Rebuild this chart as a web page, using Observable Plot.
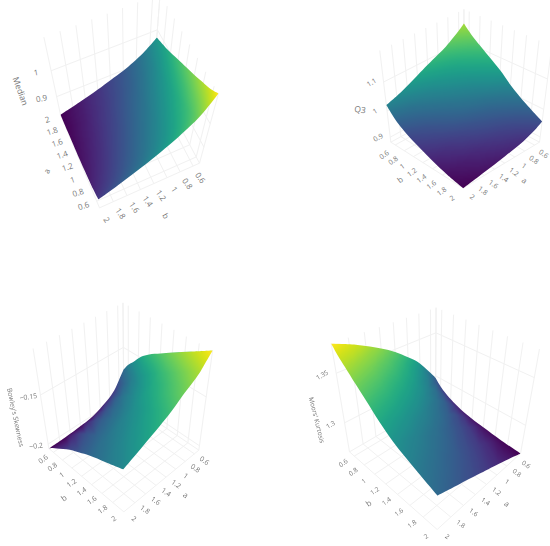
<!DOCTYPE html>
<html><head><meta charset="utf-8">
<style>
html,body{margin:0;padding:0;background:#fff}
#grid{display:grid;grid-template-columns:275px 275px;grid-template-rows:273px 273px;width:550px;height:546px;filter:blur(.4px)}
svg{display:block}
</style>
<script src="https://cdn.jsdelivr.net/npm/d3@7"></script>
<script src="https://cdn.jsdelivr.net/npm/@observablehq/plot@0.6"></script>
</head><body><div id="grid"></div>
<script>
// parameter grid shared by the four surfaces (rows: a, columns: b)
const gridA = [0.5,0.6,0.7,0.85,1,1.2,1.4,1.7,2];
const gridB = [0.5,0.6,0.7,0.85,1,1.2,1.4,1.7,2];
const abTicks = [0.6,0.8,1,1.2,1.4,1.6,1.8,2];

const medianRange = [0.82,1.11];
const medianTicks = [0.9,1];
const medianLevels = [
 [1,.88,.78,.68,.59,.49,.40,.28,.17],
 [.95,.832,.733,.634,.545,.446,.357,.239,.13],
 [.91,.794,.698,.60,.513,.416,.328,.212,.105],
 [.86,.748,.655,.56,.475,.382,.297,.183,.08],
 [.81,.703,.614,.522,.44,.351,.269,.159,.06],
 [.75,.65,.566,.478,.40,.316,.238,.134,.04],
 [.69,.598,.52,.436,.363,.285,.211,.113,.025],
 [.60,.52,.452,.376,.31,.242,.176,.088,.01],
 [.53,.46,.40,.33,.27,.21,.15,.07,0]];

const q3Range = [0.88,1.2];
const q3Ticks = [0.9,1,1.1];
const q3Levels = [
 [.865,.81,.76,.70,.64,.56,.46,.34,.24],
 [.819,.764,.714,.654,.594,.515,.416,.298,.20],
 [.78,.724,.673,.613,.554,.476,.38,.265,.17],
 [.725,.667,.615,.555,.497,.423,.332,.224,.135],
 [.685,.626,.573,.513,.456,.384,.298,.194,.11],
 [.634,.573,.519,.459,.403,.335,.256,.16,.085],
 [.58,.516,.46,.40,.346,.283,.212,.126,.06],
 [.50,.432,.374,.314,.262,.207,.149,.08,.03],
 [.44,.37,.31,.25,.20,.15,.10,.04,0]];

const bowleyRange = [-0.205,-0.11];
const bowleyTicks = [-0.2,-0.15];
const bowleyLabels = ["\u22120.2","\u22120.15"];
const bowleyLevels = [
 [.345,.43,.49,.59,.66,.73,.80,.90,1],
 [.26,.338,.399,.495,.573,.654,.736,.838,.94],
 [.18,.26,.324,.42,.502,.586,.67,.775,.88],
 [.115,.196,.26,.358,.439,.524,.609,.714,.82],
 [.075,.155,.217,.315,.395,.478,.562,.666,.77],
 [.035,.11,.169,.261,.336,.415,.494,.592,.69],
 [.02,.09,.145,.23,.30,.374,.447,.539,.63],
 [.005,.068,.117,.193,.256,.321,.387,.468,.55],
 [0,.05,.09,.15,.21,.27,.33,.40,.47]];

const moorsRange = [1.266,1.376];
const moorsTicks = [1.3,1.35];
const moorsLevels = [
 [.285,.22,.175,.125,.09,.06,.04,.015,0],
 [.37,.299,.25,.192,.15,.109,.08,.046,.023],
 [.45,.378,.327,.264,.216,.164,.125,.082,.05],
 [.56,.486,.433,.363,.305,.237,.185,.13,.085],
 [.64,.569,.516,.443,.38,.301,.239,.174,.12],
 [.74,.669,.614,.536,.466,.376,.303,.229,.165],
 [.82,.749,.695,.614,.54,.441,.362,.281,.21],
 [.92,.849,.794,.71,.632,.526,.439,.352,.275],
 [1,.93,.875,.79,.71,.60,.51,.42,.34]];

const axisDomain = [0.5,2];
const W = 275, H = 273, K = 3; // cameras below are in 3x picture units

const panels = [
 {name:"Median", levels:medianLevels, range:medianRange, ticks:medianTicks, labels:["0.9","1"], tickSize:8,
  cam:{a5b5:[597,488], a2b5:[460,230], a5b2:[297,622], a2b2:[180,343], nadir:[381,1282], top:[130,110], topAt:[1,1]},
  wallA:2,
  aAxis:{b:2,dx:-13,dy:5,rotate:-18}, bAxis:{a:.5,dx:7,dy:12,rotate:55}, zAxis:{a:2,b:2,dx:-15,dy:2,rotate:-10},
  aTitle:{dx:-32,dy:12,rotate:-70}, bTitle:{dx:15,dy:31,rotate:60},
  zTitle:{z:.965,dx:-33,dy:11,rotate:70,size:8.5}},
 {name:"Q3", levels:q3Levels, range:q3Range, ticks:q3Ticks, labels:["0.9","1","1.1"], tickSize:7,
  cam:{a5b5:[565,305], a2b5:[346,425], a5b2:[792,425], a2b2:[563,563], nadir:[563,2220], top:[310,150], topAt:[1,0]},
  wallA:.5,
  aAxis:{b:2,dx:9,dy:9,rotate:35}, bAxis:{a:2,dx:-11,dy:10,rotate:-35}, zAxis:{a:2,b:.5,dx:-12,dy:.5,rotate:-30},
  aTitle:{dx:22,dy:16,rotate:35}, bTitle:{dx:-25,dy:16,rotate:-35},
  zTitle:{z:1,dx:-27,dy:-1,rotate:8,size:8.5}},
 {name:"Bowley's Skewness", levels:bowleyLevels, range:bowleyRange, ticks:bowleyTicks, labels:bowleyLabels, tickSize:7,
  cam:{a5b5:[370,378], a2b5:[145,525], a5b2:[595,530], a2b2:[370,715], nadir:[385,2050], top:[95,225], topAt:[1,0]},
  wallA:.5,
  aAxis:{b:2,dx:10,dy:7,rotate:35}, bAxis:{a:2,dx:-10,dy:7,rotate:-35}, zAxis:{a:2,b:.5,dx:-12,dy:2,rotate:-8},
  aTitle:{dx:22,dy:16,rotate:35}, bTitle:{dx:-20,dy:20,rotate:-35},
  zTitle:{z:-.155,dx:-26,dy:17,rotate:78,size:6.8}},
 {name:"Moors' Kurtosis", levels:moorsLevels, range:moorsRange, ticks:moorsTicks, labels:["1.3","1.35"], tickSize:6.5,
  cam:{a5b5:[480,385], a2b5:[222,535], a5b2:[735,540], a2b2:[485,768], nadir:[470,2000], top:[168,210], topAt:[1,0]},
  wallA:.5,
  aAxis:{b:2,dx:10,dy:7,rotate:35}, bAxis:{a:2,dx:-11,dy:7,rotate:-35}, zAxis:{a:2,b:.5,dx:-14,dy:2,rotate:-30},
  aTitle:{dx:23,dy:17,rotate:35}, bTitle:{dx:-20,dy:17,rotate:-35},
  zTitle:{z:1.325,dx:-24,dy:21,rotate:76,size:6.5}}
];

// Projective camera from the floor quadrilateral, the vanishing point of the verticals and one box-top corner
function makeCamera(c){
  const P00=c.a5b5,P10=c.a2b5,P01=c.a5b2,P11=c.a2b2;
  const dx1=P10[0]-P11[0],dx2=P01[0]-P11[0],sx=P00[0]-P10[0]+P11[0]-P01[0];
  const dy1=P10[1]-P11[1],dy2=P01[1]-P11[1],sy=P00[1]-P10[1]+P11[1]-P01[1];
  const den=dx1*dy2-dx2*dy1,g=(sx*dy2-dx2*sy)/den,h=(dx1*sy-sx*dy1)/den;
  const fl=(u,v)=>[(P10[0]-P00[0]+g*P10[0])*u+(P01[0]-P00[0]+h*P01[0])*v+P00[0],
                   (P10[1]-P00[1]+g*P10[1])*u+(P01[1]-P00[1]+h*P01[1])*v+P00[1],
                   g*u+h*v+1];
  const [X,Y,Q]=fl(c.topAt[0],c.topAt[1]);
  const s=(Y-c.top[1]*Q)/(c.top[1]-c.nadir[1]);
  return (u,v,w)=>{const f=fl(u,v),q=f[2]+w*s;
    return [(f[0]+w*s*c.nadir[0])/q/K,(f[1]+w*s*c.nadir[1])/q/K];};
}

function drawPanel(p){
  const cam=makeCamera(p.cam),[lo,hi]=p.range,[d0,d1]=axisDomain;
  const U=a=>(a-d0)/(d1-d0),Wz=z=>(z-lo)/(hi-lo);
  const pr=(a,b,z)=>cam(U(a),U(b),Wz(z));
  const seg=(A,B)=>{const s=pr(...A),e=pr(...B);return {x1:s[0],y1:s[1],x2:e[0],y2:e[1]};};
  const links=[];
  for(const t of [...abTicks,d0]){
    links.push(seg([t,d0,lo],[t,d1,lo]),seg([d0,t,lo],[d1,t,lo]));
    links.push(seg([p.wallA,t,lo],[p.wallA,t,hi]),seg([t,d0,lo],[t,d0,hi]));
  }
  for(const z of p.ticks){
    links.push(seg([p.wallA,d0,z],[p.wallA,d1,z]),seg([d0,d0,z],[d1,d0,z]));
  }
  const pts=[];
  gridA.forEach((a,i)=>gridB.forEach((b,j)=>{
    const z=lo+p.levels[i][j]*(hi-lo),q=pr(a,b,z);pts.push({x:q[0],y:q[1],z});
  }));
  const at=(i,j)=>pr(gridA[i],gridB[j],lo+p.levels[i][j]*(hi-lo));
  const n=gridA.length-1,idx=d3.range(n+1);
  const edges=[idx.map(j=>at(0,j)),idx.map(i=>at(i,n)),idx.map(j=>at(n,n-j)),idx.map(i=>at(n-i,0))];
  const lineGen=d3.line().curve(d3.curveCatmullRom);
  const outline=edges.map((e,k)=>{const s=lineGen(e);return k?"L"+s.slice(1):s;}).join("")+"Z";

  const tickRows=(axis)=>abTicks.map(t=>{
    const q=axis==="a"?pr(t,p.aAxis.b,lo):pr(p.bAxis.a,t,lo);
    return {x:q[0],y:q[1],label:String(t)};});
  const zRows=p.ticks.map((z,i)=>{const q=pr(p.zAxis.a,p.zAxis.b,z);return {x:q[0],y:q[1],label:p.labels[i]};});
  const txt=(rows,o,size)=>Plot.text(rows,{x:"x",y:"y",text:"label",dx:o.dx,dy:o.dy,rotate:o.rotate,fontSize:size,fill:"#777"});
  const mid=1.25;
  const aMid=pr(mid,p.aAxis.b,lo),bMid=pr(p.bAxis.a,mid,lo),zMid=pr(p.zAxis.a,p.zAxis.b,p.zTitle.z);

  const chart=Plot.plot({
    width:W,height:H,margin:0,
    style:{fontFamily:'"Open Sans",sans-serif',background:"#fff"},
    x:{domain:[0,W],range:[0,W],axis:null},
    y:{domain:[0,H],range:[0,H],axis:null},
    color:{type:"linear",scheme:"viridis",domain:[lo,hi]},
    marks:[
      Plot.link(links,{x1:"x1",y1:"y1",x2:"x2",y2:"y2",stroke:"#f1f1f1",strokeWidth:1}),
      Plot.raster(pts,{x:"x",y:"y",fill:"z",interpolate:"barycentric",x1:0,x2:W,y1:0,y2:H,width:W,height:H}),
      txt(tickRows("a"),p.aAxis,p.tickSize),txt(tickRows("b"),p.bAxis,p.tickSize),txt(zRows,p.zAxis,p.tickSize),
      txt([{x:aMid[0],y:aMid[1],label:"a"}],p.aTitle,8),
      txt([{x:bMid[0],y:bMid[1],label:"b"}],p.bTitle,8),
      txt([{x:zMid[0],y:zMid[1],label:p.name}],p.zTitle,p.zTitle.size)
    ]
  });
  const id="clip"+p.name.replace(/\W/g,"");
  const svg=d3.select(chart);
  svg.append("clipPath").attr("id",id).append("path").attr("d",outline);
  svg.selectAll("image").attr("clip-path",`url(#${id})`);
  return chart;
}
const host=document.getElementById("grid");
panels.forEach(p=>host.appendChild(drawPanel(p)));
</script></body></html>
